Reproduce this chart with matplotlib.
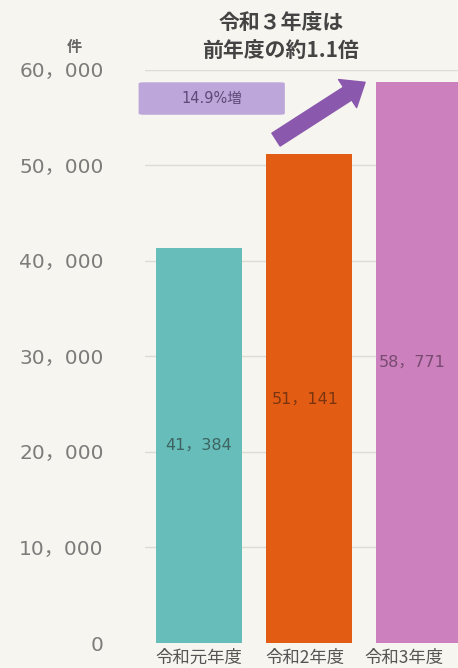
import matplotlib
matplotlib.use('agg')
import matplotlib.pyplot as plt
import matplotlib.transforms as mtransforms
from matplotlib.patches import FancyBboxPatch

plt.rcParams['font.family'] = ['Noto Sans CJK JP', 'DejaVu Sans']
num_font = ['DejaVu Sans', 'Noto Sans CJK JP']

# data
years = ['令和元年度', '令和2年度', '令和3年度']
counts = [41384, 51141, 58771]
value_labels = ['41，384', '51，141', '58，771']
ytick_vals = [0, 10000, 20000, 30000, 40000, 50000, 60000]
ytick_labels = ['0', '10，000', '20，000', '30，000', '40，000', '50，000', '60，000']
title_lines = ['令和３年度は', '前年度の約1.1倍']
increase_label = '14.9%増'

bar_colors = ['#66bdb9', '#e35c14', '#cd80be']
text_colors = ['#3d6462', '#7a3510', '#774a70']
bg = '#f6f5ef'

fig = plt.figure(figsize=(4.58, 6.68), dpi=100, facecolor=bg)
ax = fig.add_axes([0.317, 0.0374, 0.683, 0.858], facecolor=bg)

x = list(range(len(years)))
for v in ytick_vals[1:]:
    ax.axhline(v, color='#dcdcd4', lw=1.0, zorder=0)
ax.bar(x, counts, width=0.79, color=bar_colors, zorder=2)

for i, c in enumerate(counts):
    ax.text(x[i] - 0.03 * i, c / 2, value_labels[i], ha='center', va='center',
            fontsize=11.5, color=text_colors[i], family=num_font, zorder=3)

ax.set_xlim(-0.49, 2.355)
ax.set_ylim(0, 60000)
ax.set_yticks(ytick_vals)
ax.set_yticklabels(ytick_labels, fontsize=14.5, color='#7c7c7a', family=num_font)
ax.tick_params(axis='y', length=0, pad=30)
ax.set_xticks(x)
ax.set_xticklabels(years, fontsize=12.5, color='#555555')
ax.tick_params(axis='x', length=0, pad=4)
# shift the last labels a bit left, as in the original
for lab, dx in zip(ax.get_xticklabels(), [0, -4, -15]):
    lab.set_transform(lab.get_transform() +
                      mtransforms.ScaledTranslation(dx / 100, 0, fig.dpi_scale_trans))
for s in ax.spines.values():
    s.set_visible(False)

# increase box and arrow
box = FancyBboxPatch((-0.55, 55300), 1.33, 3400,
                     boxstyle='round,pad=0,rounding_size=0.05',
                     mutation_aspect=2500, facecolor='#bda6da',
                     edgecolor='none', clip_on=False, zorder=3)
ax.add_patch(box)
ax.text(0.115, 57000, increase_label, ha='center', va='center',
        fontsize=10.5, color='#5e4a78', family=num_font, zorder=4)
ax.annotate('', xy=(1.51, 58700), xytext=(0.70, 52700),
            arrowprops=dict(arrowstyle='simple,tail_width=1.1,head_width=2.4,head_length=1.5',
                            mutation_scale=10, color='#8a58ad',
                            shrinkA=0, shrinkB=0),
            zorder=4, annotation_clip=False)

fig.text(0.163, 0.930, '件', ha='center', va='center', fontsize=11,
         fontweight='bold', color='#666666')
fig.text(0.613, 0.967, title_lines[0], ha='center', va='center',
         fontsize=15, fontweight='bold', color='#444444')
fig.text(0.613, 0.925, title_lines[1], ha='center', va='center',
         fontsize=15, fontweight='bold', color='#444444')

plt.savefig('out.png', dpi=100, facecolor=bg)
